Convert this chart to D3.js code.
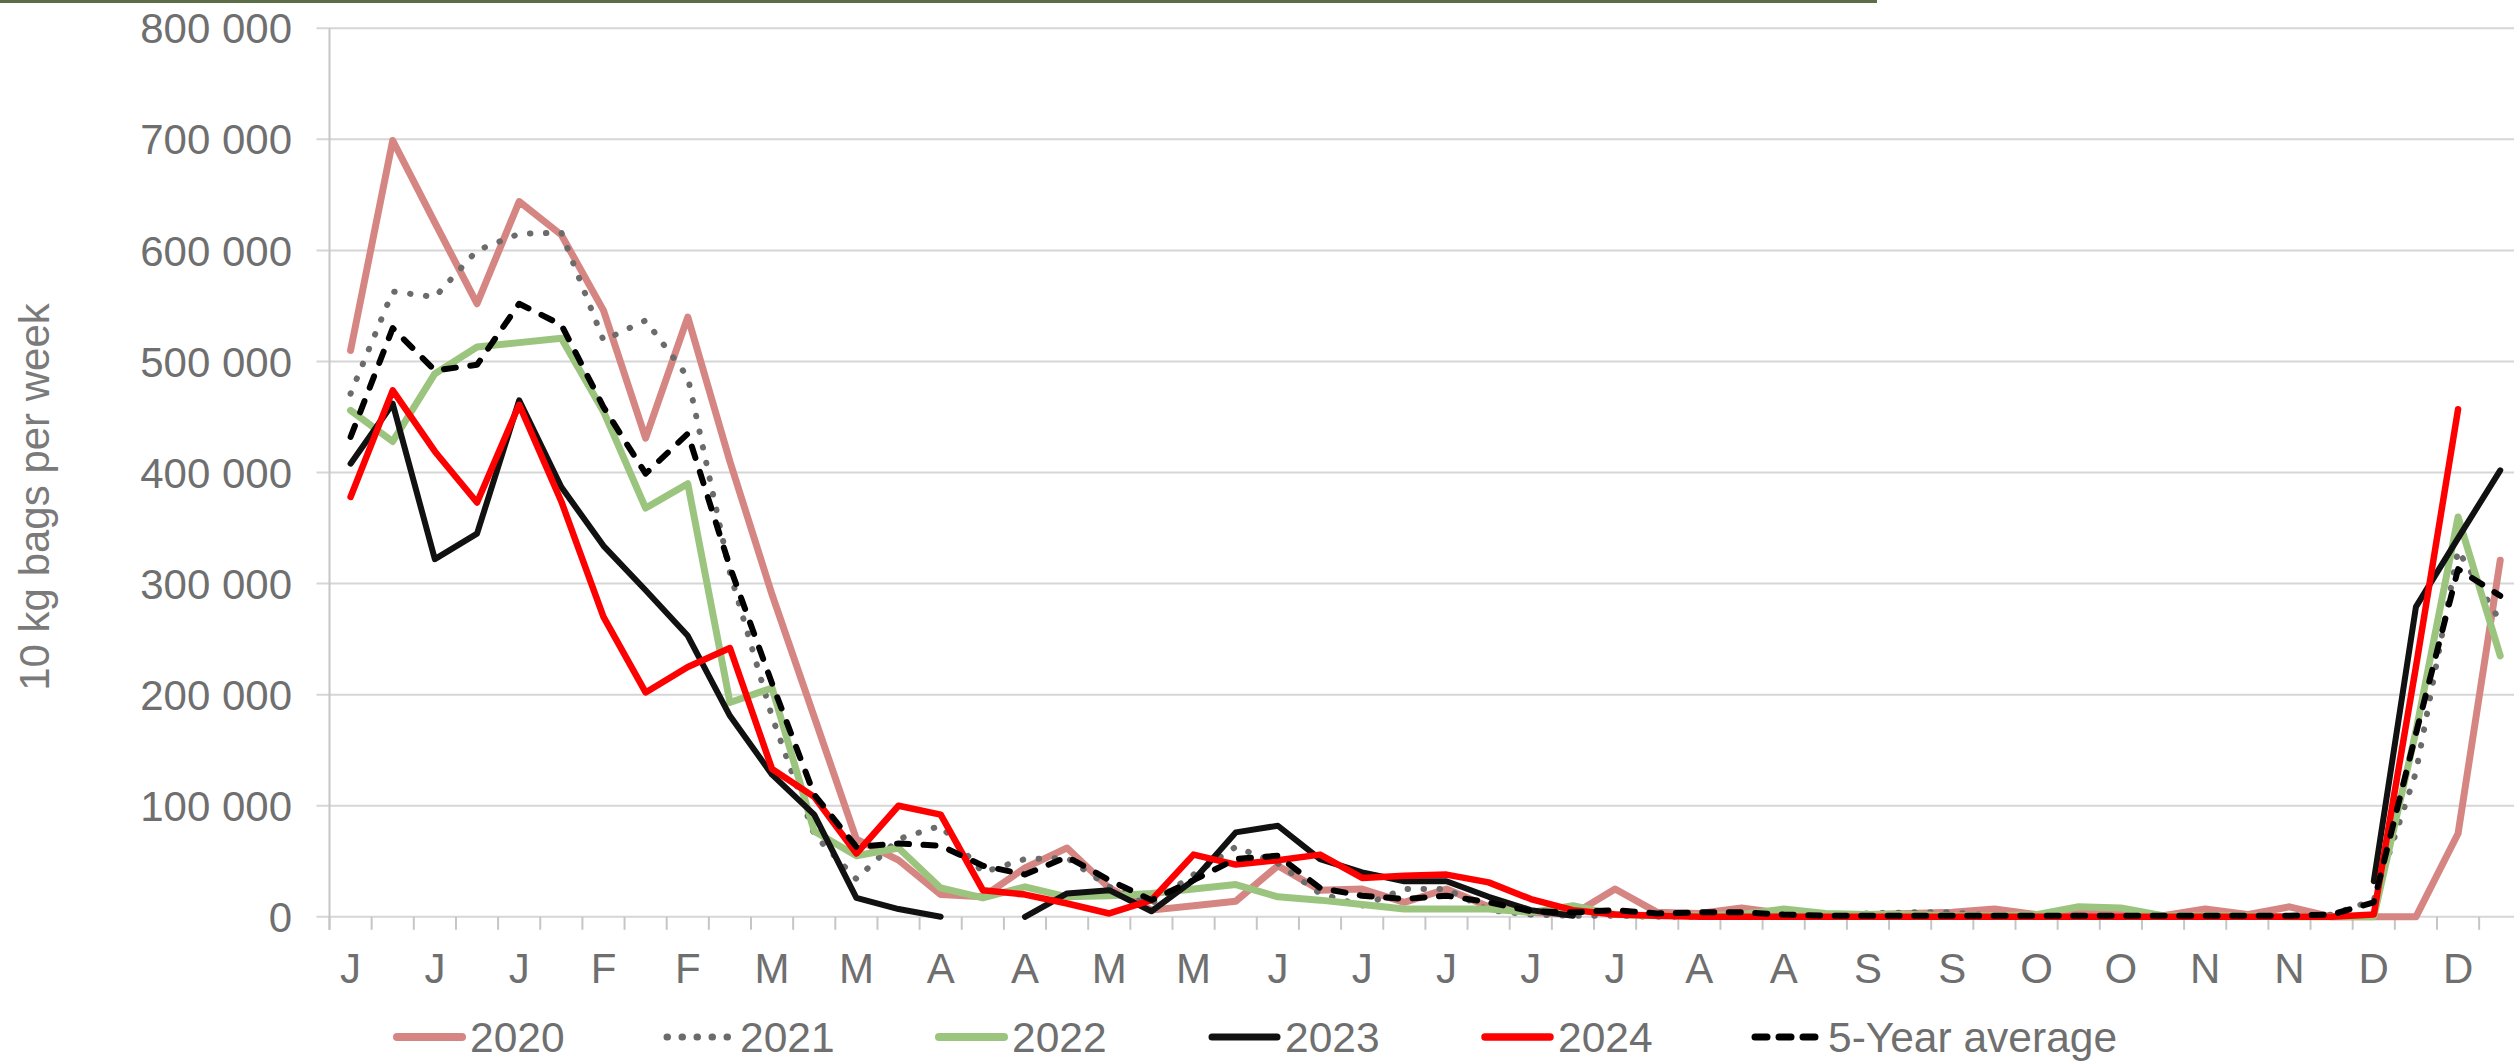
<!DOCTYPE html>
<html>
<head>
<meta charset="utf-8">
<script src="https://cdn.jsdelivr.net/npm/d3@7"></script>
<style>
  html, body { margin: 0; padding: 0; background: #ffffff; }
  svg { display: block; }
</style>
</head>
<body>
<svg id="chart" width="2514" height="1061"></svg>
<script>
// ---------- DATA (values in thousands of bags; null = no data) ----------
const weekCount = 52;
const monthLabels = ["J","J","J","F","F","M","M","A","A","M","M","J","J","J","J","J","A","A","S","S","O","O","N","N","D","D"];
const yTicks = [0, 100000, 200000, 300000, 400000, 500000, 600000, 700000, 800000];
const seriesNames = ["2020", "2021", "2022", "2023", "2024", "5-Year average"];

const s2020 = [510,699,625,552,644,614,546,431,540,410,290,180,70,51,20,18,44,62,26,6,10,14,46,24,25,13,25,9,4,2,25,4,3,8,3,2,2,3,4,7,2,3,4,1,7,2,9,0,0,0,75,321];
const s2021 = [471,563,558,600,615,616,519,537,486,310,180,74,34,70,82,40,52,53,27,12,38,63,48,21,10,25,25,6,2,1,1,0,0,0,0,1,3,4,4,1,0,0,0,0,0,0,0,2,15,130,330,266];
const s2022 = [456,428,489,513,517,521,455,368,390,193,206,77,55,62,26,17,27,18,19,21,25,29,18,15,11,7,7,7,4,10,2,1,1,2,7,3,2,2,1,1,2,9,8,1,1,1,0,0,0,167,360,235];
const s2023 = [408,462,322,345,465,387,334,294,253,181,128,92,17,7,0,null,0,21,24,5,33,76,82,52,40,32,32,18,6,1,
  null,null,null,null,null,null,null,null,null,null,null,null,null,null,null,null,null,null,32,279,341,402];
const s2024 = [378,474,419,373,461,374,270,202,225,242,133,108,57,100,92,24,20,12,3,15,56,47,51,56,35,37,38,31,16,6,2,1,
  0,0,0,0,0,0,0,0,0,0,0,0,0,0,0,0,2,225,457,null];
const sAvg  = [432,530,492,497,552,533,459,399,435,315,210,110,63,66,64,46,38,54,33,15,33,52,55,26,19,16,19,13,5,4,6,3,4,4,2,1,1,1,1,1,1,1,1,1,1,1,1,2,13,165,313,289];

// ---------- STYLES ----------
const styles = [
  { color: "#d58683", width: 7,   dash: null },
  { color: "#6b6b6b", width: 6,   dash: "0.5,15.5" },
  { color: "#9bc57e", width: 7,   dash: null },
  { color: "#111111", width: 6,   dash: null },
  { color: "#ff0000", width: 6.5, dash: null },
  { color: "#000000", width: 6,   dash: "12,14.5" }
];
const allSeries = [s2020, s2021, s2022, s2023, s2024, sAvg];

const FONT = "'Liberation Sans', Arial, Helvetica, sans-serif";
const textColor = "#6f6f6f";
const gridColor = "#d6d6d6";
const axisColor = "#c6c6c6";

const svg = d3.select("#chart");

// top decorative bar
svg.append("rect").attr("x", 0).attr("y", 0).attr("width", 1877).attr("height", 3).attr("fill", "#5c6e47");

const plotLeft = 329.5, catW = 42.15;
const x = d3.scaleBand().domain(d3.range(weekCount)).range([plotLeft, plotLeft + weekCount * catW]).paddingInner(0).paddingOuter(0);
const y = d3.scaleLinear().domain([0, 800000]).range([916.8, 28.3]);
const cx = i => x(i) + x.bandwidth() / 2;

// gridlines + y tick marks
const gridG = svg.append("g");
yTicks.forEach(t => {
  gridG.append("line")
    .attr("x1", plotLeft - 13).attr("x2", 2514)
    .attr("y1", y(t)).attr("y2", y(t))
    .attr("stroke", gridColor).attr("stroke-width", 2);
});

// y axis line
svg.append("line").attr("x1", plotLeft).attr("x2", plotLeft)
  .attr("y1", y(800000)).attr("y2", y(0) + 13)
  .attr("stroke", axisColor).attr("stroke-width", 2);

// x tick marks at category boundaries
for (let k = 0; k <= weekCount; k++) {
  const xx = plotLeft + k * x.bandwidth();
  svg.append("line").attr("x1", xx).attr("x2", xx)
    .attr("y1", y(0)).attr("y2", y(0) + 13)
    .attr("stroke", axisColor).attr("stroke-width", 2);
}

// y tick labels
const fmt = v => d3.format(",")(v).replace(/,/g, "\u00a0");
svg.append("g").selectAll("text").data(yTicks).join("text")
  .attr("x", 292).attr("y", d => y(d)).attr("dy", "0.36em")
  .attr("text-anchor", "end")
  .attr("font-family", FONT).attr("font-size", 42).attr("fill", textColor)
  .text(d => fmt(d));

// x labels (every other week)
svg.append("g").selectAll("text").data(monthLabels).join("text")
  .attr("x", (d, j) => cx(j * 2)).attr("y", 983)
  .attr("text-anchor", "middle")
  .attr("font-family", FONT).attr("font-size", 42).attr("fill", textColor)
  .text(d => d);

// y axis title
svg.append("text")
  .attr("transform", "translate(49,497) rotate(-90)")
  .attr("text-anchor", "middle")
  .attr("font-family", FONT).attr("font-size", 42).attr("fill", "#7a7a7a")
  .text("10 kg bags per week");

// lines
const line = d3.line()
  .defined(d => d.v !== null)
  .x(d => cx(d.i))
  .y(d => y(d.v * 1000));

const linesG = svg.append("g");
allSeries.forEach((arr, si) => {
  const st = styles[si];
  const pts = arr.map((v, i) => ({ i, v }));
  const p = linesG.append("path")
    .attr("d", line(pts))
    .attr("fill", "none")
    .attr("stroke", st.color)
    .attr("stroke-width", st.width)
    .attr("stroke-linejoin", "round")
    .attr("stroke-linecap", "round");
  if (st.dash) p.attr("stroke-dasharray", st.dash);
});

// legend
const legendX = [394, 664, 936, 1209, 1482, 1752];
const legY = 1037, legLen = 71;
const legG = svg.append("g");
seriesNames.forEach((name, si) => {
  const st = styles[si];
  const l = legG.append("line")
    .attr("x1", legendX[si] + 3).attr("x2", legendX[si] + legLen - 3)
    .attr("y1", legY).attr("y2", legY)
    .attr("stroke", st.color).attr("stroke-width", st.width + 1)
    .attr("stroke-linecap", "round");
  if (st.dash) l.attr("stroke-dasharray", si === 1 ? "0.5,14.5" : "12,12");
  legG.append("text")
    .attr("x", legendX[si] + legLen + 5).attr("y", 1052)
    .attr("font-family", FONT).attr("font-size", 42.5).attr("fill", textColor)
    .text(name);
});
</script>
</body>
</html>
